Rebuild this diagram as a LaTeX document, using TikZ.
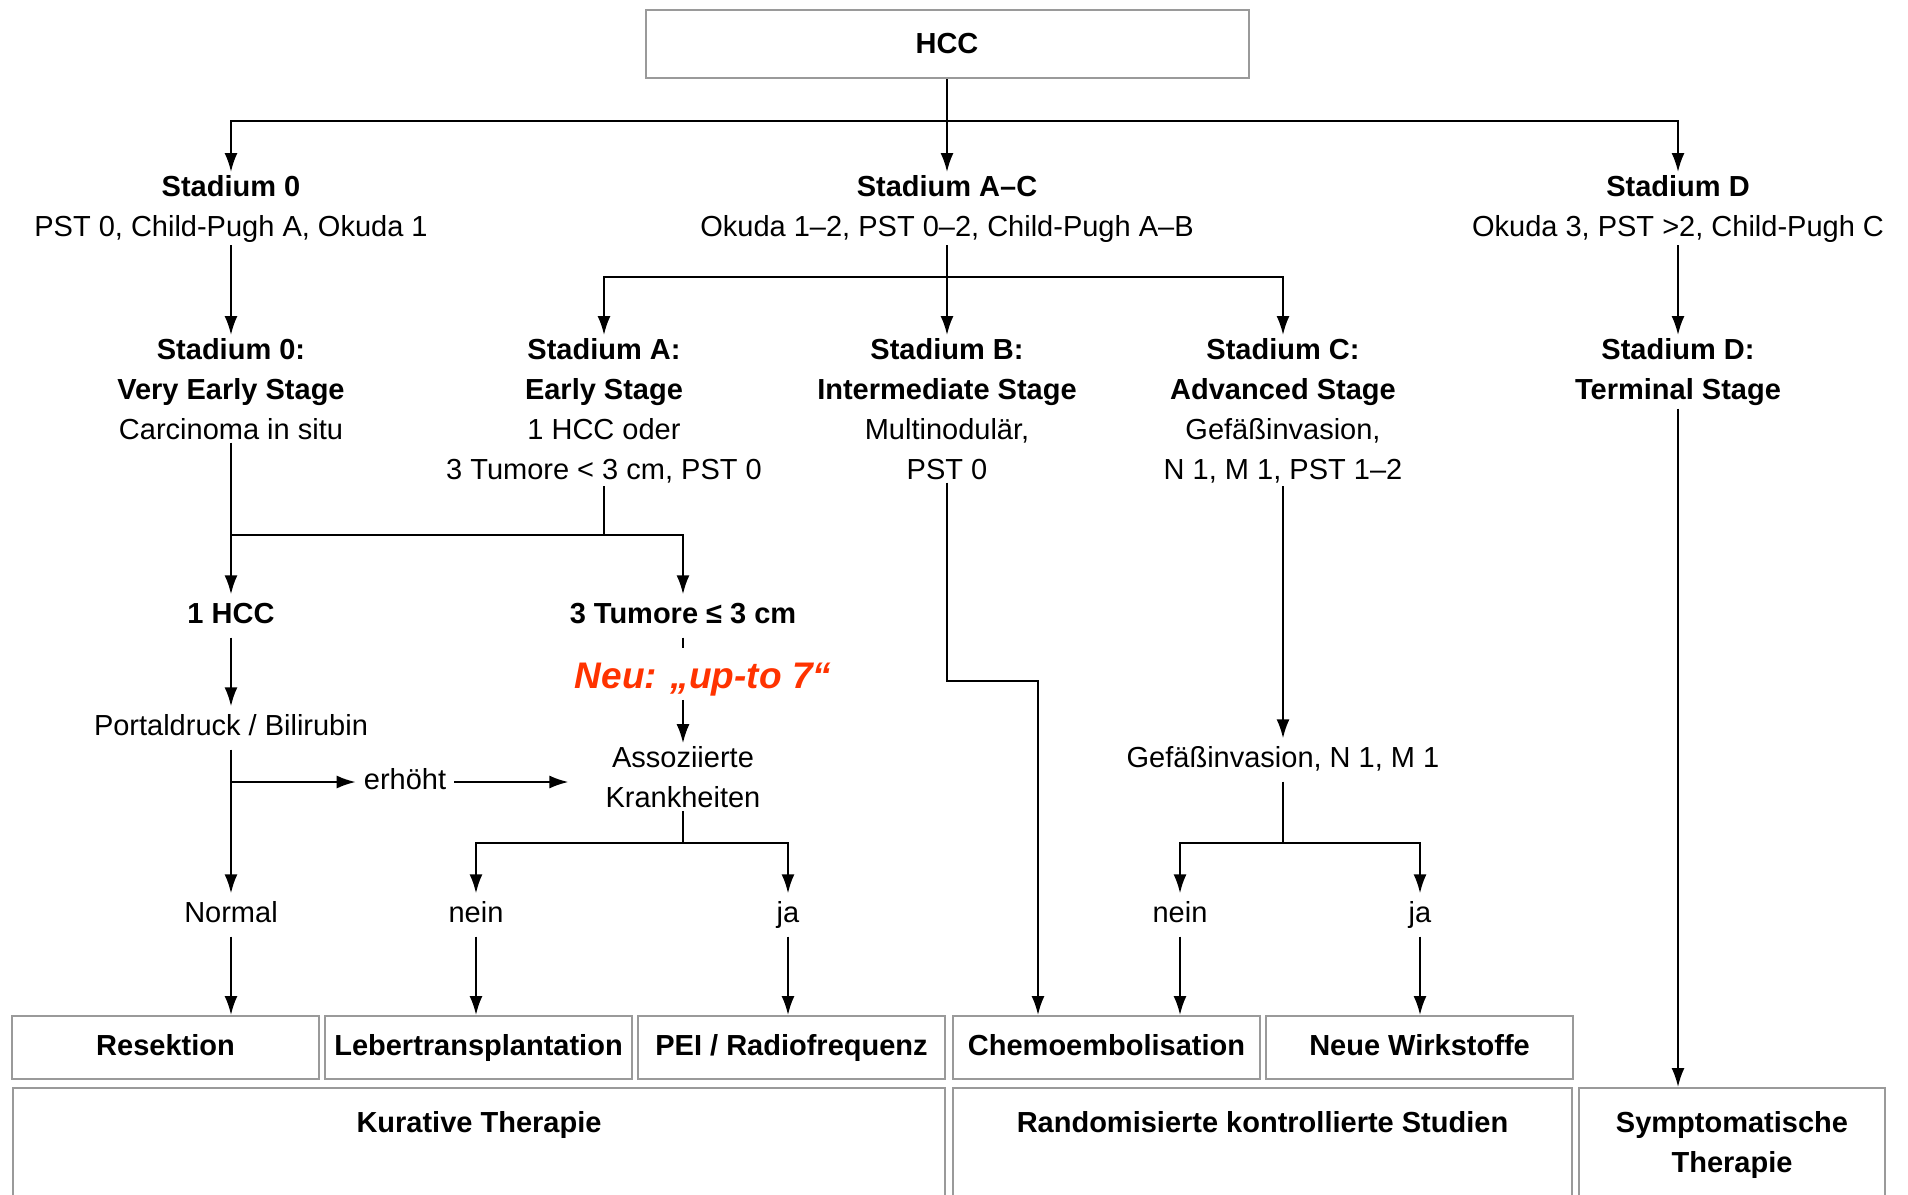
\documentclass[tikz,border=0pt]{standalone}
\usepackage{fontspec}
\setmainfont{Liberation Sans}
\usetikzlibrary{positioning, arrows.meta}
\definecolor{BoxGray}{HTML}{9A9A9A}
\definecolor{NeuRed}{HTML}{FF3300}

\begin{document}
\begin{tikzpicture}[
  x=1pt, y=-1pt,
  font=\fontsize{29}{40}\selectfont,
  node distance=4pt,
  txt/.style={align=center, inner sep=3pt},
  one/.style={txt, inner sep=8pt, text height=21pt, text depth=6pt},
  head/.style={one, font=\fontsize{29}{40}\selectfont\bfseries},
  box/.style={draw=BoxGray, line width=2pt, fill=white, align=center,
              font=\fontsize{29}{40}\selectfont\bfseries, inner sep=0pt},
  treat/.style={box, minimum width=307pt, minimum height=63pt,
                text height=21pt, text depth=6pt},
  panel/.style={box, anchor=north west, inner ysep=0pt,
                text height=44pt, text depth=100pt},
  arr/.style={-{Latex[length=19pt, width=13pt]}, line width=2pt},
  ln/.style={line width=2pt}
]
  \path[use as bounding box] (0,0) rectangle (1908,1194);
  \clip (0,0) rectangle (1908,1194);

  % Root
  \node[box, minimum width=603pt, minimum height=68pt] (hcc) at (947,44) {HCC};

  % Level 1: stages
  \node[txt, anchor=north] (st0)  at (231,172)  {\textbf{Stadium 0}\\PST 0, Child-Pugh A, Okuda 1};
  \node[txt, anchor=north] (stac) at (947,172)  {\textbf{Stadium A–C}\\Okuda 1–2, PST 0–2, Child-Pugh A–B};
  \node[txt, anchor=north] (std)  at (1678,172) {\textbf{Stadium D}\\Okuda 3, PST >2, Child-Pugh C};

  % Level 2: BCLC stages
  \node[txt, anchor=north] (s0) at (231,335)  {\textbf{Stadium 0:}\\\textbf{Very Early Stage}\\Carcinoma in situ};
  \node[txt, anchor=north] (sa) at (604,335)  {\textbf{Stadium A:}\\\textbf{Early Stage}\\1 HCC oder\\3 Tumore < 3 cm, PST 0};
  \node[txt, anchor=north] (sb) at (947,335)  {\textbf{Stadium B:}\\\textbf{Intermediate Stage}\\Multinodulär,\\PST 0};
  \node[txt, anchor=north] (sc) at (1283,335) {\textbf{Stadium C:}\\\textbf{Advanced Stage}\\Gefäßinvasion,\\N 1, M 1, PST 1–2};
  \node[txt, anchor=north] (sd) at (1678,335) {\textbf{Stadium D:}\\\textbf{Terminal Stage}};

  % Level 3: criteria
  \node[head] (hcc1) at (231,616) {1 HCC};
  \node[head] (tum)  at (683,616) {3 Tumore ≤ 3 cm};
  \node[txt, text=NeuRed, font=\fontsize{37}{44}\selectfont\bfseries\itshape] (neu) at (703,680) {Neu: „up-to 7“};
  \node[one] (pb)  at (231,728)  {Portaldruck / Bilirubin};
  \node[one] (erh) at (405,782)  {erhöht};
  \node[txt] (ak)  at (683,777)  {Assoziierte\\Krankheiten};
  \node[one] (gef) at (1283,760) {Gefäßinvasion, N 1, M 1};

  % Level 4: decisions
  \node[one] (nm)    at (231,915)  {Normal};
  \node[one] (nein1) at (476,915)  {nein};
  \node[one] (ja1)   at (788,915)  {ja};
  \node[one] (nein2) at (1180,915) {nein};
  \node[one] (ja2)   at (1420,915) {ja};

  % Treatments
  \node[treat] (res) at (165.5,1047.5) {Resektion};
  \node[treat, right=of res] (leb) {Lebertransplantation};
  \node[treat, right=of leb] (pei) {PEI / Radiofrequenz};
  \node[treat, right=6pt of pei] (chemo) {Chemoembolisation};
  \node[treat, right=of chemo] (neue) {Neue Wirkstoffe};

  % Therapy groups
  \node[panel, minimum width=932pt] (kur)  at (12,1087)   {Kurative Therapie};
  \node[panel, minimum width=619pt] (rand) at (952,1087)  {Randomisierte kontrollierte Studien};
  \node[panel, minimum width=306pt, text height=84pt, text depth=60pt] (symp) at (1578,1087) {Symptomatische\\Therapie};

  % Junctions
  \coordinate (hb)  at (947,121);
  \coordinate (jac) at (947,277);
  \coordinate (j0)  at (231,535);
  \coordinate (kb)  at (1038,681);
  \coordinate (j1)  at (683,843);
  \coordinate (j2)  at (1283,843);

  % HCC -> stages
  \draw[arr] (hcc) -- (stac);
  \draw[arr] (hb) -| (st0);
  \draw[arr] (hb) -| (std);

  \draw[arr] (st0) -- (s0);
  \draw[ln]  (stac) -- (jac);
  \draw[arr] (jac) -| (sa);
  \draw[arr] (jac) -- (sb);
  \draw[arr] (jac) -| (sc);
  \draw[arr] (std) -- (sd);

  % Stadium 0 / A
  \draw[arr] (s0) -- (hcc1);
  \draw[arr] (j0) -| (tum);
  \draw[ln]  (sa) -- (sa |- j0);
  \draw[arr] (hcc1) -- (pb);
  \draw[ln]  (tum.south) -- ++(0,10);
  \draw[arr] (ak.north |- neu.south) -- (ak.north);
  \draw[arr] (pb) -- (nm);
  \draw[arr] (pb.south |- erh.west) -- (erh.west);
  \draw[arr, shorten >=34pt] (erh.east) -- (erh.east -| ak.west);
  \draw[ln]  (ak) -- (j1);
  \draw[arr] (j1) -| (nein1);
  \draw[arr] (j1) -| (ja1);
  \draw[arr] (nm) -- (nm |- res.north);
  \draw[arr] (nein1) -- (nein1 |- leb.north);
  \draw[arr] (ja1) -- (ja1 |- pei.north);

  % Stadium B
  \draw[arr] (sb) |- (kb) -- (kb |- chemo.north);

  % Stadium C
  \draw[arr] (sc) -- (gef);
  \draw[ln]  (gef) -- (j2);
  \draw[arr] (j2) -| (nein2);
  \draw[arr] (j2) -| (ja2);
  \draw[arr] (nein2) -- (nein2 |- chemo.north);
  \draw[arr] (ja2) -- (ja2 |- neue.north);

  % Stadium D
  \draw[arr] (sd) -- (sd |- symp.north);
\end{tikzpicture}
\end{document}
